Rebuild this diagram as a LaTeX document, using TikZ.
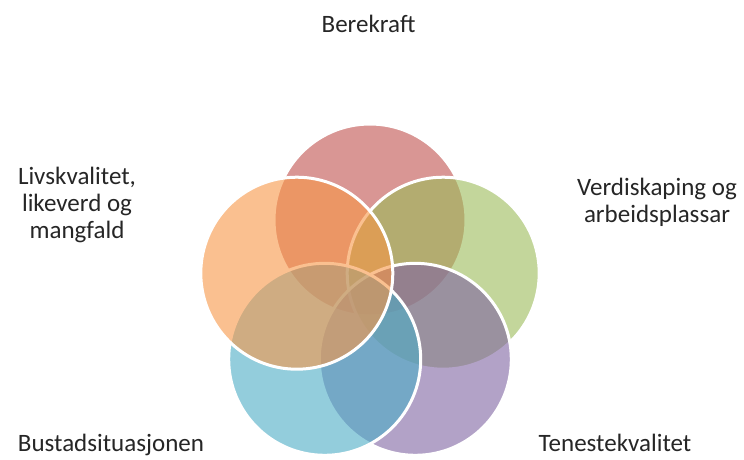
\documentclass[tikz,border=0pt]{standalone}
\usepackage{fontspec}
\setmainfont{Carlito}
\definecolor{vred}{RGB}{192,80,77}
\definecolor{vgreen}{RGB}{155,187,89}
\definecolor{vpurple}{RGB}{128,100,162}
\definecolor{vblue}{RGB}{75,172,198}
\definecolor{vorange}{RGB}{247,150,70}
\definecolor{txt}{RGB}{38,38,38}
\begin{document}
\begin{tikzpicture}[x=1pt,y=-1pt,
  venn/.style={circle, minimum size=192pt, inner sep=0pt, outer sep=0pt, draw=white, line width=3pt, fill opacity=0.6},
  lbl/.style={font=\fontsize{25}{27}\selectfont, text=txt, align=center, inner sep=0pt}]
\useasboundingbox (0,0) rectangle (744,459);
\fill[white] (0,0) rectangle (744,459);
\node[venn, fill=vred]    (red)    at (370,220) {};
\node[venn, fill=vgreen]  (green)  at (443.2,273.2) {};
\node[venn, fill=vpurple] (purple) at (415.3,359.3) {};
\node[venn, fill=vblue]   (blue)   at (324.7,359.3) {};
\node[venn, fill=vorange] (orange) at (296.8,273.2) {};
\node[lbl, anchor=base] (lb) at (368.5,32) {Berekraft};
\node[lbl] (ll) at (77,205) {Livskvalitet,\\likeverd og\\mangfald};
\node[lbl] (lv) at (657,202) {Verdiskaping og\\arbeidsplassar};
\node[lbl, anchor=base] (lbu) at (111,451) {Bustadsituasjonen};
\node[lbl, anchor=base] (lt) at (615,451) {Tenestekvalitet};
\end{tikzpicture}
\end{document}
